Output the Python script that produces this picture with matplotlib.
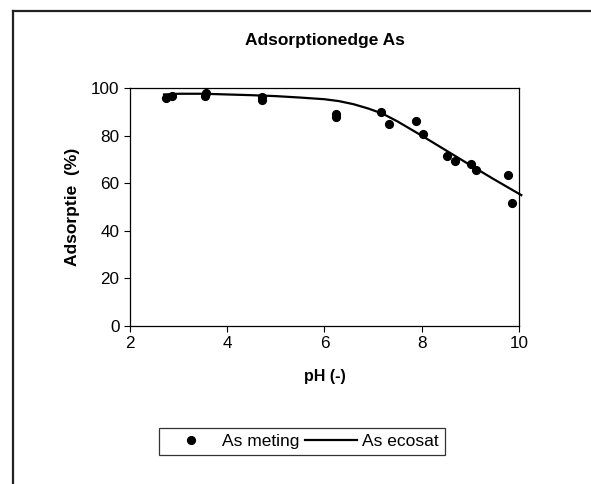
import matplotlib
matplotlib.use('Agg')
import numpy as np
import matplotlib.pyplot as plt
from matplotlib.lines import Line2D

plt.rcParams['font.family'] = ['Liberation Sans', 'DejaVu Sans']

# meetpunten
ph_meting = [2.74, 2.86, 3.54, 3.57, 4.71, 4.71, 6.24, 6.24, 7.16, 7.33, 7.88, 8.02,
             8.52, 8.69, 9.01, 9.12, 9.77, 9.86]
ads_meting = [96.0, 96.8, 96.8, 98.0, 96.3, 95.0, 89.3, 88.0, 89.9, 84.7, 86.3, 80.6,
              71.4, 69.4, 68.1, 65.6, 63.3, 51.5]

# ecosat model
ph_ecosat = [2.7, 3.0, 3.5, 4.0, 4.5, 5.0, 5.5, 6.0, 6.3, 6.6, 6.9, 7.2, 7.5, 8.0, 8.5,
             9.0, 9.5, 10.05]
ads_ecosat = [97.3, 97.6, 97.6, 97.3, 97.0, 96.6, 96.0, 95.3, 94.5, 93.2, 91.4, 89.2, 86.0,
              80.0, 73.8, 67.6, 61.5, 55.0]

fig = plt.figure(figsize=(5.91, 4.84), dpi=100)
ax = fig.add_axes([0.220, 0.3264, 0.658, 0.4917])

ax.plot(ph_meting, ads_meting, 'o', color='black', markersize=5.6, label='As meting')
ax.plot(ph_ecosat, ads_ecosat, '-', color='black', linewidth=1.6, label='As ecosat', clip_on=False)

ax.set_xlim(2, 10)
ax.set_ylim(0, 100)
ax.set_xticks([2, 4, 6, 8, 10])
ax.set_yticks([0, 20, 40, 60, 80, 100])
ax.tick_params(direction='out', length=4, width=0.8, labelsize=12.3, top=False, right=False)
for s in ax.spines.values():
    s.set_linewidth(0.9)

ax.set_title('Adsorptionedge As', fontsize=12.5, fontweight='bold', pad=31)
ax.set_xlabel('pH (-)', fontsize=11.5, fontweight='bold', labelpad=13)
ax.set_ylabel('Adsorptie  (%)', fontsize=12.5, fontweight='bold', labelpad=8)

leg = fig.legend(loc='center', bbox_to_anchor=(0.511, 0.088), ncol=2, fontsize=12.5,
                 frameon=True, fancybox=False, edgecolor='black', handlelength=3.0,
                 columnspacing=0.3, handletextpad=0.3, borderpad=0.35)
leg.get_frame().set_linewidth(0.9)

# rand om de grafiek
fig.add_artist(Line2D([13 / 591, 13 / 591], [0, 1 - 11 / 484], color='#222222', linewidth=1.6))
fig.add_artist(Line2D([13 / 591, 1], [1 - 11 / 484, 1 - 11 / 484], color='#222222', linewidth=1.6))

fig.savefig('out.png', dpi=100)
